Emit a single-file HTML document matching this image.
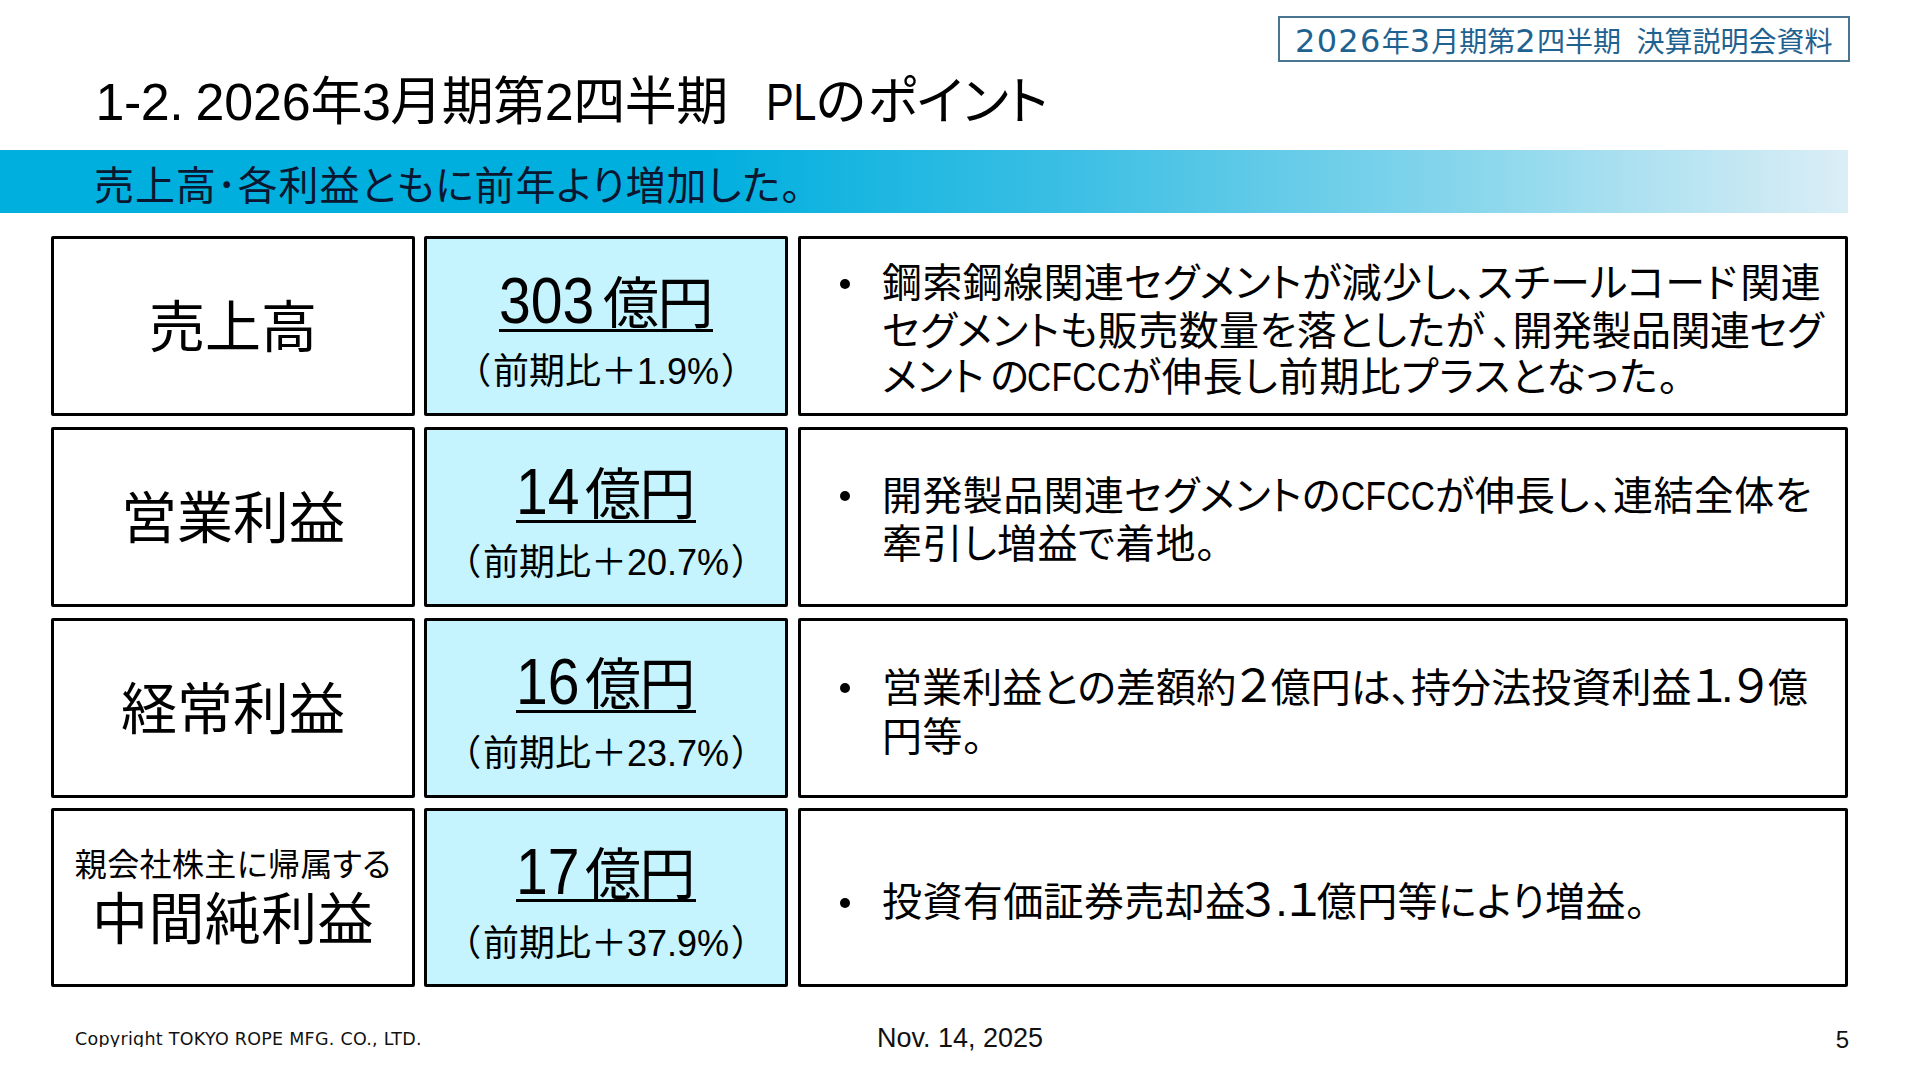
<!DOCTYPE html>
<html lang="ja">
<head>
<meta charset="utf-8">
<title>1-2. 2026年3月期第2四半期 PLのポイント</title>
<style>
html,body{margin:0;padding:0;background:#fff;}
body{width:1920px;height:1080px;position:relative;overflow:hidden;
  font-family:"Liberation Sans","Noto Sans CJK JP",sans-serif;color:#000;
  font-feature-settings:"palt" 1;}
.ln{position:absolute;white-space:nowrap;line-height:1;}
.box{position:absolute;box-sizing:border-box;border:3px solid #000;border-radius:2px;background:#fff;}
.box.blue{background:#c5f4fe;}
.hdr{position:absolute;left:1278px;top:16px;width:572px;height:46px;box-sizing:border-box;
  border:2px solid #4a7590;background:#fff;}
.hdrtxt{color:#1f628f;font-size:28px;left:1295px;top:25px;}
.hdrtxt .d{font-family:"DejaVu Sans","Liberation Sans",sans-serif;font-size:32px;letter-spacing:1.3px;}
.title{left:95.5px;top:76px;font-size:52px;letter-spacing:-0.5px;}
.sx{display:inline-block;transform-origin:0 50%;}
.banner{position:absolute;left:0;top:150px;width:1848px;height:63px;
  background:linear-gradient(to right,#00afde 0%,#00afde 38%,#3cbfe4 58%,#8ad7ec 80%,#dbeef6 100%);}
.bantxt{left:94px;top:166px;font-size:40px;color:#0b1630;letter-spacing:0.9px;}
.lab{font-size:56px;}
.val{font-size:56px;letter-spacing:0;}
.val .u{display:inline-block;position:relative;line-height:1;}
.val .u::after{content:"";position:absolute;left:0;right:0;bottom:0.5px;height:3px;background:#000;}
.val .d{display:inline-block;position:relative;top:0;font-size:64px;line-height:56px;transform:scaleX(.893);transform-origin:0 100%;}
.val .k{letter-spacing:-1.5px;}
.val .n3{margin-right:-2.4px;}
.val .n2{margin-right:-2.6px;}
.sub{font-size:36px;}
.b{font-size:40px;letter-spacing:0.4px;}
.fw{font-size:45px;line-height:0;}
.lab4s{font-size:32px;letter-spacing:0.4px;}
.dot{position:absolute;width:10px;height:10px;border-radius:50%;background:#000;}
.foot{color:#111;}
</style>
</head>
<body>

<div class="hdr"></div>
<div class="ln hdrtxt"><span class="d">2026</span>年<span class="d">3</span>月期第<span class="d">2</span>四半期&nbsp;&nbsp;決算説明会資料</div>

<div class="ln title">1-2.<span style="letter-spacing:-2px">&nbsp;</span><span style="letter-spacing:-0.2px">2026</span>年3月期第2四半期<span style="display:inline-block;width:38px"></span><span class="sx" style="transform:scaleX(.8);margin-right:-12.7px">PL</span>の<span style="margin-left:2px">ポ</span>イント</div>

<div class="banner"></div>
<div class="ln bantxt">売上高･各利益ともに前年より増加した。</div>

<!-- row 1 -->
<section class="row">
<div class="box" style="left:51px;top:236px;width:364px;height:180px;">
  <div class="ln lab" style="left:0;right:0;text-align:center;top:61px;">売上高</div>
</div>
<div class="box blue" style="left:424px;top:236px;width:364px;height:180px;">
  <div class="ln val" style="left:0;right:0;text-align:center;top:34px;"><span class="u"><span class="d n3">303</span><span class="k">億</span>円</span></div>
  <div class="ln sub" style="left:0;right:0;text-align:center;top:115px;"><span style="margin-right:3px">（</span>前期比＋1.9%<span style="margin-left:3px">）</span></div>
</div>
<div class="box" style="left:798px;top:236px;width:1050px;height:180px;">
  <div class="dot" style="left:39px;top:39.75px;"></div>
  <div class="ln b" style="left:81px;top:24.3px;">鋼索鋼線関連セグメントが減少し、スチールコード<span style="margin-left:3px">関</span>連</div>
  <div class="ln b" style="left:81px;top:71.7px;">セグメントも販売数量を落としたが<span style="margin-left:7px">、</span><span style="letter-spacing:-0.5px">開発製品関連セグ</span></div>
  <div class="ln b" style="left:81px;top:117.9px;">メント<span style="margin-left:6px">の</span><span class="sx" style="transform:scaleX(.835);margin-right:-18.6px;margin-left:-2px">CFCC</span><span style="letter-spacing:1px">が伸長し前期比プラスとなった。</span></div>
</div>
</section>
<!-- row 2 -->
<section class="row">
<div class="box" style="left:51px;top:427px;width:364px;height:180px;">
  <div class="ln lab" style="left:0;right:0;text-align:center;top:61px;">営業利益</div>
</div>
<div class="box blue" style="left:424px;top:427px;width:364px;height:180px;">
  <div class="ln val" style="left:0;right:0;text-align:center;top:34px;"><span class="u"><span class="d n2">14</span><span class="k">億</span>円</span></div>
  <div class="ln sub" style="left:0;right:0;text-align:center;top:115px;"><span style="margin-right:3px">（</span>前期比＋20.7%<span style="margin-left:3px">）</span></div>
</div>
<div class="box" style="left:798px;top:427px;width:1050px;height:180px;">
  <div class="dot" style="left:39px;top:60.5px;"></div>
  <div class="ln b" style="left:81px;top:45.7px;">開発製品関連セグメントの<span class="sx" style="transform:scaleX(.835);margin-right:-18.6px">CFCC</span>が伸長し<span style="margin-left:3px">、</span>連結全体を</div>
  <div class="ln b" style="left:81px;top:93.8px;">牽引し増益で着地。</div>
</div>
</section>
<!-- row 3 -->
<section class="row">
<div class="box" style="left:51px;top:618px;width:364px;height:180px;">
  <div class="ln lab" style="left:0;right:0;text-align:center;top:61px;">経常利益</div>
</div>
<div class="box blue" style="left:424px;top:618px;width:364px;height:180px;">
  <div class="ln val" style="left:0;right:0;text-align:center;top:33px;"><span class="u"><span class="d n2">16</span><span class="k">億</span>円</span></div>
  <div class="ln sub" style="left:0;right:0;text-align:center;top:115px;"><span style="margin-right:3px">（</span>前期比＋23.7%<span style="margin-left:3px">）</span></div>
</div>
<div class="box" style="left:798px;top:618px;width:1050px;height:180px;">
  <div class="dot" style="left:39px;top:62.25px;"></div>
  <div class="ln b" style="left:81px;top:47.3px;letter-spacing:0.1px;">営業利益との差額約<span class="fw">２</span>億円は、持分法投資利益<span class="fw" style="margin-right:-5px">１</span><span class="fw">.</span><span class="fw">９</span>億</div>
  <div class="ln b" style="left:81px;top:95.9px;">円等。</div>
</div>
</section>
<!-- row 4 -->
<section class="row">
<div class="box" style="left:51px;top:808px;width:364px;height:179px;">
  <div class="ln lab4s" style="left:0;right:0;text-align:center;top:37.5px;">親会社株主に帰属する</div>
  <div class="ln lab" style="left:0;right:0;text-align:center;top:81px;letter-spacing:0.4px;">中間純利益</div>
</div>
<div class="box blue" style="left:424px;top:808px;width:364px;height:179px;">
  <div class="ln val" style="left:0;right:0;text-align:center;top:32.5px;"><span class="u"><span class="d n2">17</span><span class="k">億</span>円</span></div>
  <div class="ln sub" style="left:0;right:0;text-align:center;top:115px;"><span style="margin-right:3px">（</span>前期比＋37.9%<span style="margin-left:3px">）</span></div>
</div>
<div class="box" style="left:798px;top:808px;width:1050px;height:179px;">
  <div class="dot" style="left:39px;top:86.5px;"></div>
  <div class="ln b" style="left:81px;top:71.3px;">投資有価証券売却益<span class="fw" style="margin-left:-5px">３</span><span class="fw">.</span><span class="fw" style="margin-left:-2px;margin-right:-4px">１</span>億円等により増益。</div>
</div>
</section>

<!-- footer -->
<div class="ln foot" style="left:75px;top:1031px;height:16px;overflow:hidden;font-size:17.5px;font-family:'DejaVu Sans','Liberation Sans',sans-serif;letter-spacing:0.27px;">Copyright TOKYO ROPE MFG. CO., LTD.</div>
<div class="ln foot" style="left:760px;width:400px;text-align:center;top:1025px;font-size:27px;">Nov. 14, 2025</div>
<div class="ln foot" style="left:1799px;width:50px;text-align:right;top:1028px;font-size:24px;">5</div>

</body>
</html>
